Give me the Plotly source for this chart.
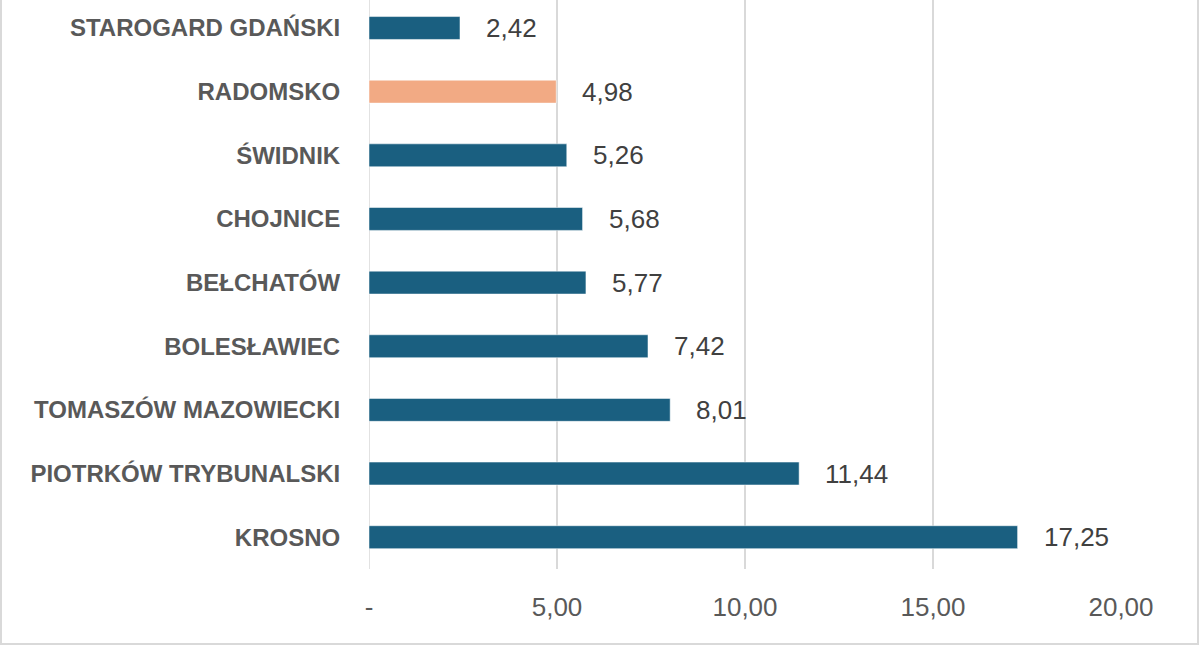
import plotly.graph_objects as go

categories = ["KROSNO", "PIOTRKÓW TRYBUNALSKI", "TOMASZÓW MAZOWIECKI", "BOLESŁAWIEC",
              "BEŁCHATÓW", "CHOJNICE", "ŚWIDNIK", "RADOMSKO", "STAROGARD GDAŃSKI"]
values = [17.25, 11.44, 8.01, 7.42, 5.77, 5.68, 5.26, 4.98, 2.42]
highlight = "RADOMSKO"
tick_vals = [0, 5, 10, 15, 20]
tick_text = ["-", "5,00", "10,00", "15,00", "20,00"]

BLUE = "#1a5f80"
ORANGE = "#f2aa84"
colors = [ORANGE if c == highlight else BLUE for c in categories]
labels = [f"{v:.2f}".replace(".", ",") for v in values]

W, H = 1200, 646
ML, MR, MT, MB = 369, 79, 0, 77

fig = go.Figure()
fig.add_trace(go.Bar(
    y=categories, x=values, orientation="h",
    marker=dict(color=colors, line=dict(color="rgba(255,255,255,0.5)", width=1)),
    width=0.36, hoverinfo="skip",
))
for c, v, t in zip(categories, values, labels):
    fig.add_annotation(x=v, y=c, text=t, showarrow=False, xanchor="left",
                       xshift=24, font=dict(family="Liberation Sans", size=26, color="#404040"))

pw = W - ML - MR
ph = H - MT - MB
fig.add_shape(type="rect", xref="paper", yref="paper",
              x0=-(ML - 1) / pw, x1=1 + (MR - 2) / pw,
              y0=-(MB - 2) / ph, y1=1.01,
              line=dict(color="#d9d9d9", width=2), layer="below")

fig.update_layout(
    width=W, height=H, margin=dict(l=ML, r=MR, t=MT, b=MB),
    paper_bgcolor="white", plot_bgcolor="white", showlegend=False,
    xaxis=dict(range=[0, 20], tickvals=tick_vals, ticktext=tick_text,
               showgrid=True, gridcolor="#d9d9d9", gridwidth=1.5, zeroline=False,
               showline=False, ticks="outside", ticklen=15, tickcolor="rgba(0,0,0,0)",
               tickfont=dict(family="Liberation Sans", size=26, color="#595959")),
    yaxis=dict(range=[-0.5, 8.44], showgrid=False, zeroline=False, showline=False,
               ticks="outside", ticklen=23, tickcolor="rgba(0,0,0,0)",
               tickfont=dict(family="Liberation Sans", size=24, color="#595959", weight="bold")),
)
fig.add_vline(x=0, line=dict(color="#d9d9d9", width=1.5), layer="below")

fig.write_html("out.html")
